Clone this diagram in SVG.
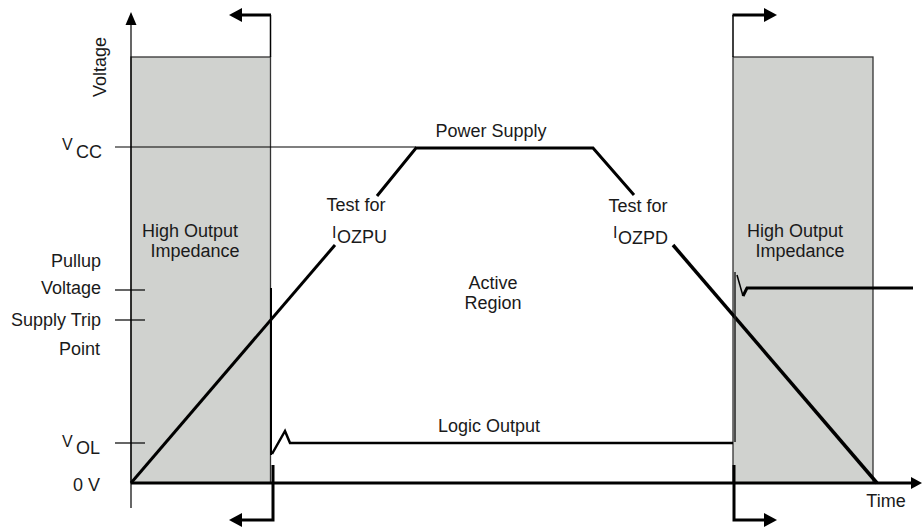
<svg xmlns="http://www.w3.org/2000/svg" width="923" height="529" viewBox="0 0 923 529">
<defs>
<style>
text{font-family:"Liberation Sans",Arial,sans-serif;fill:#1a1a1a;font-size:18px}
.mid{text-anchor:middle}
.end{text-anchor:end}
.sm{font-size:16px}
.box{fill:#d0d2cf;stroke:#333;stroke-width:1.3}
.thin{stroke:#000;stroke-width:1.2;fill:none}
.thick{stroke:#000;stroke-width:3;fill:none}
.arr{fill:#000}
</style>
</defs>
<rect width="923" height="529" fill="#fff"/>
<g id="zone-left"><rect class="box" x="131" y="57" width="139.5" height="426"/>
<text class="mid" x="190" y="237">High Output</text><text class="mid" x="195" y="257">Impedance</text></g>
<g id="zone-right"><rect class="box" x="733" y="57" width="140" height="426"/>
<text class="mid" x="795" y="237">High Output</text><text class="mid" x="800" y="257">Impedance</text></g>
<g id="axes">
<line class="thin" x1="131" y1="24" x2="131" y2="508"/>
<polygon class="arr" points="131,12 125.5,25 136.5,25"/>
<line class="thick" x1="131" y1="483" x2="912" y2="483"/>
<polygon class="arr" points="922,483 911,477 911,489"/>
<text transform="translate(106,67) rotate(-90)" class="mid">Voltage</text>
<text class="mid" x="886" y="507">Time</text>
</g>
<g id="levels">
<line class="thin" x1="115" y1="147" x2="416" y2="147"/>
<line class="thin" x1="115" y1="290" x2="145" y2="290"/>
<line class="thin" x1="115" y1="320" x2="145" y2="320"/>
<line class="thin" x1="115" y1="443" x2="145" y2="443"/>
<text x="62" y="150" class="sm">V</text><text x="76" y="158">CC</text>
<text class="end" x="101" y="267">Pullup</text>
<text class="end" x="101" y="294">Voltage</text>
<text class="end" x="101" y="326">Supply Trip</text>
<text class="end" x="100" y="355">Point</text>
<text x="62" y="447" class="sm">V</text><text x="76" y="454">OL</text>
<text class="end" x="100" y="491">0 V</text>
</g>
<g id="power-supply">
<polyline class="thick" points="131,483 335,245"/>
<polyline class="thick" points="377,196 416,148 593,148 634,195"/>
<line x1="673" y1="245" x2="877" y2="483" stroke="#000" stroke-width="3.5"/>
<text class="mid" x="491" y="137">Power Supply</text>
<text class="mid" x="356" y="211">Test for</text>
<text x="332" y="238" class="sm">I</text><text x="337" y="243">OZPU</text>
<text class="mid" x="638" y="212">Test for</text>
<text x="613" y="238" class="sm">I</text><text x="618" y="244">OZPD</text>
<text class="mid" x="493" y="289">Active</text>
<text class="mid" x="493" y="309">Region</text>
</g>
<g id="logic-output">
<line x1="271" y1="288" x2="271" y2="455" stroke="#000" stroke-width="2"/>
<polyline fill="none" stroke="#000" stroke-width="2.5" points="272,454 285,431 290,443 733,443"/>
<line x1="735" y1="272" x2="735" y2="442" stroke="#222" stroke-width="1.5"/>
<polyline fill="none" stroke="#000" stroke-width="1.5" points="737,275 743,296"/>
<polyline fill="none" stroke="#000" stroke-width="3" points="743,296 747,288 913,288"/>
<text class="mid" x="489" y="432">Logic Output</text>
</g>
<g id="connectors">
<line x1="270.5" y1="15" x2="270.5" y2="57" stroke="#000" stroke-width="1.5"/>
<line class="thick" x1="271" y1="15" x2="240" y2="15"/>
<polygon class="arr" points="229,15 242,8 242,22"/>
<line x1="733" y1="15" x2="733" y2="57" stroke="#000" stroke-width="1.5"/>
<line class="thick" x1="732.5" y1="15" x2="766" y2="15"/>
<polygon class="arr" points="777,15 764,8 764,22"/>
<polyline class="thick" points="273,465 273,520 240,520"/>
<polygon class="arr" points="229,520 242,513 242,527"/>
<polyline class="thick" points="734,465 734,520 766,520"/>
<polygon class="arr" points="777,520 764,513 764,527"/>
</g>
</svg>
